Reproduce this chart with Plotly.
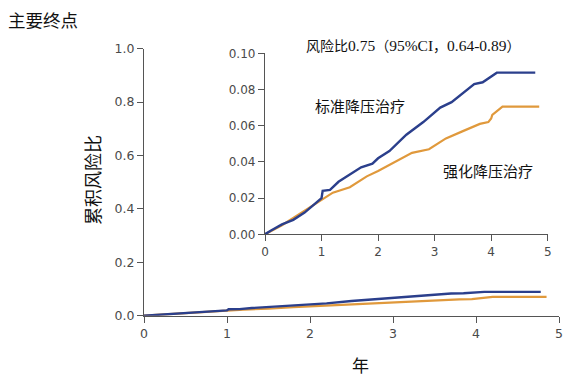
import plotly.graph_objects as go

# Data
std_t = [0, 0.1, 0.3, 0.5, 0.7, 0.9, 1.0, 1.02, 1.15, 1.3, 1.5, 1.7, 1.9, 2.0, 2.2, 2.5, 2.8, 3.0, 3.1, 3.3, 3.5, 3.6, 3.7, 3.85, 4.0, 4.1, 4.78]
std_v = [0, 0.002, 0.0055, 0.008, 0.012, 0.017, 0.020, 0.024, 0.0245, 0.029, 0.033, 0.037, 0.039, 0.042, 0.046, 0.055, 0.062, 0.067, 0.070, 0.073, 0.078, 0.081, 0.083, 0.084, 0.087, 0.0893, 0.0893]
int_t = [0, 0.3, 0.5, 0.8, 1.0, 1.2, 1.5, 1.8, 2.0, 2.3, 2.6, 2.9, 3.0, 3.2, 3.5, 3.8, 3.95, 4.0, 4.02, 4.1, 4.2, 4.85]
int_v = [0, 0.005, 0.009, 0.015, 0.019, 0.023, 0.026, 0.032, 0.035, 0.040, 0.045, 0.047, 0.049, 0.053, 0.057, 0.061, 0.062, 0.064, 0.066, 0.068, 0.0705, 0.0705]

main_yticks = [0.0, 0.2, 0.4, 0.6, 0.8, 1.0]
main_ylabels = ["0.0", "0.2", "0.4", "0.6", "0.8", "1.0"]
inset_yticks = [0.0, 0.02, 0.04, 0.06, 0.08, 0.10]
inset_ylabels = ["0.00", "0.02", "0.04", "0.06", "0.08", "0.10"]
xticks = [0, 1, 2, 3, 4, 5]

BLUE = "#2b3f8c"
ORANGE = "#e0993c"
W, H = 579, 379

fig = go.Figure()
for xa, ya in [("x", "y"), ("x2", "y2")]:
    fig.add_trace(go.Scatter(x=int_t, y=int_v, mode="lines", xaxis=xa, yaxis=ya,
                             line=dict(color=ORANGE, width=2.2), showlegend=False, hoverinfo="skip"))
    fig.add_trace(go.Scatter(x=std_t, y=std_v, mode="lines", xaxis=xa, yaxis=ya,
                             line=dict(color=BLUE, width=2.4), showlegend=False, hoverinfo="skip"))

tickfont_main = dict(family="DejaVu Sans", size=12.5, color="#4a4a4a")
tickfont_in = dict(family="DejaVu Sans", size=12, color="#4a4a4a")
axcommon = dict(showgrid=False, zeroline=False, showline=True, linecolor="#555555", linewidth=1.3,
                ticks="outside", ticklen=6, tickcolor="#555555", tickwidth=1.3, automargin=False)

def px(x):
    return x / W

def py(y):
    return 1 - y / H

fig.update_layout(
    template="none",
    width=W, height=H,
    margin=dict(l=0, r=0, t=0, b=0, pad=0, autoexpand=False),
    paper_bgcolor="white", plot_bgcolor="rgba(0,0,0,0)",
    xaxis=dict(domain=[px(144), px(559)], range=[0, 5], tickvals=xticks, anchor="y",
               tickfont=tickfont_main, **axcommon),
    yaxis=dict(domain=[py(315.7), py(48.7)], range=[0, 1], tickvals=main_yticks, ticktext=main_ylabels,
               anchor="x", tickfont=tickfont_main, **axcommon),
    xaxis2=dict(domain=[px(265), px(547.7)], range=[0, 5], tickvals=xticks, anchor="y2",
                tickfont=tickfont_in, **axcommon),
    yaxis2=dict(domain=[py(234.3), py(53.3)], range=[0, 0.1], tickvals=inset_yticks, ticktext=inset_ylabels,
                anchor="x2", tickfont=tickfont_in, **axcommon),
)

cjk = "Noto Sans CJK SC"
serif = "font-family:'Liberation Serif';font-size:15.5px"
hr_text = ("风险比<span style=\"" + serif + "\">0.75</span>（<span style=\"" + serif + "\">95%CI</span>，"
           "<span style=\"" + serif + "\">0.64-0.89</span>）")
annos = [
    dict(text="主要终点", x=px(6), y=py(20), xanchor="left", yanchor="middle", size=17.5),
    dict(text="累积风险比", x=px(92), y=py(180), xanchor="center", yanchor="middle", size=18, textangle=-90),
    dict(text="年", x=px(360), y=py(364), xanchor="center", yanchor="middle", size=17),
    dict(text=hr_text, x=px(304), y=py(45), xanchor="left", yanchor="middle", size=14),
    dict(text="标准降压治疗", x=px(313), y=py(106), xanchor="left", yanchor="middle", size=15),
    dict(text="强化降压治疗", x=px(441), y=py(170), xanchor="left", yanchor="middle", size=15),
]
for a in annos:
    fig.add_annotation(text=a["text"], x=a["x"], y=a["y"], xref="paper", yref="paper",
                       xanchor=a["xanchor"], yanchor=a["yanchor"], showarrow=False,
                       textangle=a.get("textangle", 0),
                       font=dict(family=cjk, size=a["size"], color="#111111"))

fig.write_html("out.html", config={"displayModeBar": False},
               post_script="document.body.style.margin='0';document.body.style.overflow='hidden';")
